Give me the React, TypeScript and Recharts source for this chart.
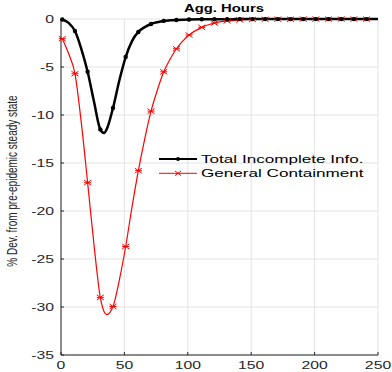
import React from "react";
import {
  LineChart,
  Line,
  XAxis,
  YAxis,
  CartesianGrid,
  Legend,
} from "recharts";

// periods (denser where the curves move fast)
const periods = [
  1, 6, 11, 16, 21, 26, 31, 34, 36, 41, 46, 51, 56, 61, 66, 71, 76, 81, 86, 91,
  96, 101, 111, 121, 131, 141, 151, 161, 171, 181, 191, 201, 211, 221, 231, 241, 250,
];
const totalIncomplete = [
  -0.05, -0.4, -1.25, -3.1, -5.5, -8.6, -11.5, -11.88, -11.5, -9.27, -6.4, -3.96,
  -2.3, -1.35, -0.85, -0.52, -0.33, -0.2, -0.14, -0.1, -0.07, -0.05, -0.03, -0.02,
  -0.02, -0.01, -0.01, -0.01, -0.01, -0.01, -0.01, -0.01, -0.01, -0.01, -0.01,
  -0.01, -0.01,
];
const generalContainment = [
  -2.05, -3.6, -5.7, -10.8, -17.05, -23.5, -29.0, -30.5, -30.8, -29.95, -27.2,
  -23.7, -19.6, -15.8, -12.5, -9.6, -7.4, -5.5, -4.2, -3.1, -2.3, -1.67, -0.87,
  -0.42, -0.2, -0.1, -0.05, -0.03, -0.02, -0.02, -0.01, -0.01, -0.01, -0.01,
  -0.01, -0.01, -0.01,
];
const markerPeriods = [
  1, 11, 21, 31, 41, 51, 61, 71, 81, 91, 101, 111, 121, 131, 141, 151, 161, 171,
  181, 191, 201, 211, 221, 231, 241,
];
const xTicks = [0, 50, 100, 150, 200, 250];
const yTicks = [-35, -30, -25, -20, -15, -10, -5, 0];

const data = periods.map((t, i) => ({
  t,
  total: totalIncomplete[i],
  general: generalContainment[i],
  mark: markerPeriods.includes(t),
}));

const FONT = "'Liberation Sans', Arial, Helvetica, sans-serif";
const AXIS = "#262626";
const STRETCH = 1.5;

const XTick = (props: any) => {
  const { x, y, payload } = props;
  return (
    <text
      transform={`translate(${x},${y}) scale(${STRETCH},1)`}
      textAnchor="middle"
      dy="0.71em"
      fontSize={10.5}
      fontFamily={FONT}
      fill={AXIS}
    >
      {payload.value}
    </text>
  );
};

const YTick = (props: any) => {
  const { x, y, payload } = props;
  return (
    <text
      transform={`translate(${x},${y}) scale(${STRETCH},1)`}
      textAnchor="end"
      dy="0.35em"
      fontSize={10.5}
      fontFamily={FONT}
      fill={AXIS}
    >
      {payload.value}
    </text>
  );
};

const blackDot = (props: any) => {
  const { cx, cy, payload, index } = props;
  if (!payload.mark) return <g key={`b${index}`} />;
  return <circle key={`b${index}`} cx={cx} cy={cy} r={2.2} fill="#000" />;
};

const redDot = (props: any) => {
  const { cx, cy, payload, index } = props;
  if (!payload.mark) return <g key={`r${index}`} />;
  return (
    <g key={`r${index}`} stroke="#ff0000" strokeWidth={1}>
      <line x1={cx - 3.5} y1={cy - 2.5} x2={cx + 3.5} y2={cy + 2.5} />
      <line x1={cx - 3.5} y1={cy + 2.5} x2={cx + 3.5} y2={cy - 2.5} />
      <line x1={cx - 3.5} y1={cy} x2={cx + 3.5} y2={cy} />
    </g>
  );
};

const LegendBox = () => (
  <svg width={235} height={34} style={{ display: "block" }}>
    <line x1={4} y1={9} x2={42} y2={9} stroke="#000" strokeWidth={2} />
    <circle cx={23} cy={9} r={2} fill="#000" />
    <line x1={4} y1={23.3} x2={42} y2={23.3} stroke="#ff0000" strokeWidth={1} />
    <g stroke="#ff0000" strokeWidth={1}>
      <line x1={20} y1={21} x2={26} y2={25.6} />
      <line x1={20} y1={25.6} x2={26} y2={21} />
    </g>
    <text
      transform="translate(46,13.3) scale(1.6,1)"
      fontSize={10.7}
      fontFamily={FONT}
      fill="#000"
    >
      Total Incomplete Info.
    </text>
    <text
      transform="translate(46,27) scale(1.6,1)"
      fontSize={10.7}
      fontFamily={FONT}
      fill="#000"
    >
      General Containment
    </text>
  </svg>
);

const YLabel = (props: any) => {
  const { viewBox } = props;
  const cy = viewBox.y + viewBox.height / 2 - 6;
  return (
    <text
      transform={`translate(12,${cy}) scale(${STRETCH},1) rotate(-90)`}
      textAnchor="middle"
      dy="0.35em"
      fontSize={10}
      fontFamily={FONT}
      fill={AXIS}
    >
      % Dev. from pre-epidemic steady state
    </text>
  );
};

export default function App() {
  return (
    <div style={{ position: "absolute", left: 0, top: 0, width: 392, height: 372, background: "#fff" }}>
      <LineChart
        width={392}
        height={372}
        data={data}
        margin={{ top: 19, right: 14, bottom: 0, left: 0 }}
      >
        <CartesianGrid stroke="#e3e3e3" strokeWidth={1} />
        <XAxis
          dataKey="t"
          type="number"
          domain={[0, 250]}
          ticks={xTicks}
          height={17}
          stroke={AXIS}
          tickSize={-3}
          tickMargin={9.5}
          tick={XTick}
        />
        <YAxis
          type="number"
          domain={[-35, 0]}
          ticks={yTicks}
          width={61}
          stroke={AXIS}
          tickSize={-3}
          tickMargin={10}
          tick={YTick}
          label={{ content: YLabel }}
        />
        <Line
          dataKey="general"
          type="monotone"
          stroke="#ff0000"
          strokeWidth={1.2}
          dot={redDot}
          activeDot={false}
          isAnimationActive={false}
        />
        <Line
          dataKey="total"
          type="monotone"
          stroke="#000"
          strokeWidth={2.5}
          dot={blackDot}
          activeDot={false}
          isAnimationActive={false}
        />
        <Legend
          layout="horizontal"
          verticalAlign="middle"
          align="center"
          content={LegendBox}
          wrapperStyle={{ left: 155, top: 150, width: 235, height: 34 }}
        />
      </LineChart>
      <svg
        width={392}
        height={20}
        style={{ position: "absolute", left: 0, top: 0, pointerEvents: "none" }}
      >
        <text
          transform={`translate(224,12) scale(1.35,1)`}
          textAnchor="middle"
          fontSize={11}
          fontWeight="bold"
          fontFamily={FONT}
          fill="#000"
        >
          Agg. Hours
        </text>
      </svg>
    </div>
  );
}
